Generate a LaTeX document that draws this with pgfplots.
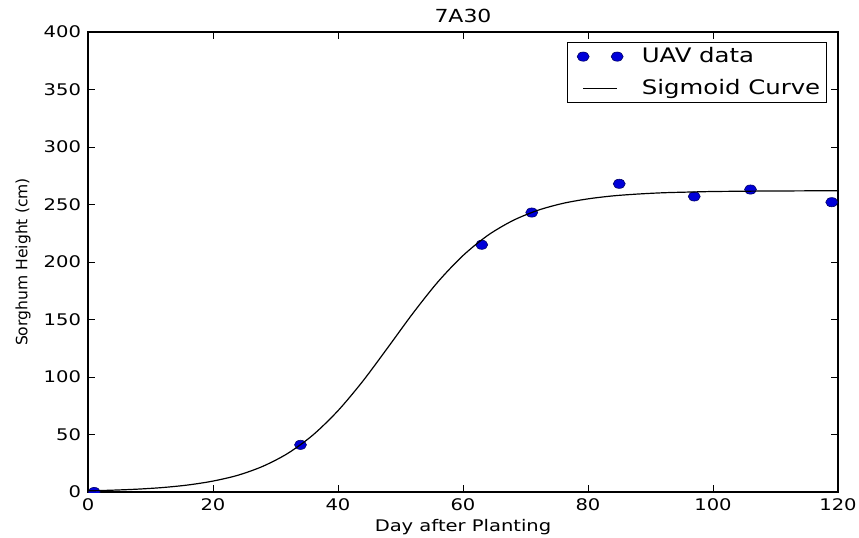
\documentclass[border=0pt]{standalone}
\usepackage{fontspec}
\setmainfont{DejaVu Sans}[FakeStretch=1.22]
\newfontfamily\ylfont{DejaVu Sans}
\usepackage{pgfplots}
\pgfplotsset{compat=1.18}
\pgfplotsset{
  twodots/.style={legend image code/.code={\path (-6.5pt,0pt) (27pt,0pt);\draw[##1] plot coordinates {(0pt,0pt) (17pt,0pt)};}},
  shortline/.style={legend image code/.code={\path (-6.5pt,0pt) (27pt,0pt);\draw[##1] (0pt,0pt) -- (17pt,0pt);}},
}

\begin{document}
\begin{tikzpicture}
\begin{axis}[
  at={(0,0)}, anchor=south west,
  scale only axis, width=375pt, height=230pt,
  xmin=0, xmax=120, ymin=0, ymax=400,
  xtick={0,20,...,120}, ytick={0,50,...,400},
  axis line style={line width=0.6pt},
  major tick length=3.5pt,
  tick style={black, line width=0.5pt},
  tick label style={font=\fontsize{8}{9}\selectfont},
  /pgf/number format/assume math mode=true,
  title={7A30},
  every axis title shift=0pt,
  title style={font=\fontsize{9}{10}\selectfont, at={(axis description cs:0.5,1)}, anchor=base, yshift=5pt},
  xlabel={Day after Planting},
  xlabel style={font=\fontsize{8}{9}\selectfont, at={(axis description cs:0.5,0)}, anchor=base, yshift=-19.5pt},
  ylabel={Sorghum Height (cm)},
  ylabel style={font=\ylfont\fontsize{7.8}{9}\selectfont, at={(axis description cs:-0.0867,0.5)}, anchor=center},
  clip marker paths=true,
  legend style={at={(axis cs:118.2,391.3)}, anchor=north east,
    font=\fontsize{10}{11}\selectfont, draw=black, line width=0.5pt,
    row sep=3pt, inner xsep=1pt, inner ysep=0.5pt,
    cells={anchor=west}},
]
\addplot[only marks, mark=*, mark size=2.3pt,
  mark options={xscale=1.3, fill=blue!85!black, draw=black!60!blue, line width=0.3pt},
  twodots]
coordinates {(1,0) (34,41) (63,215) (71,243) (85,268) (97,257) (106,263) (119,252)};
\addlegendentry{UAV data}
\addplot[black, line width=0.6pt, smooth, no marks, shortline]
coordinates {(0,1.0) (4,1.6) (8,2.5) (12,3.9) (16,6.1) (20,9.5) (24,14.6) (28,22.4)
 (32,33.7) (36,49.6) (40,70.7) (44,96.6) (48,125.8) (52,155.5) (56,182.8) (60,205.6)
 (64,223.3) (68,236.1) (72,245.0) (76,251.0) (80,254.9) (84,257.5) (88,259.1)
 (92,260.2) (96,260.8) (100,261.3) (104,261.5) (108,261.7) (112,261.8) (116,261.9) (120,261.9)};
\addlegendentry{Sigmoid Curve}
\end{axis}
\pgfresetboundingbox
\path[use as bounding box] (-44pt,-22.5pt) rectangle (385.5pt,246pt);
\end{tikzpicture}
\end{document}
